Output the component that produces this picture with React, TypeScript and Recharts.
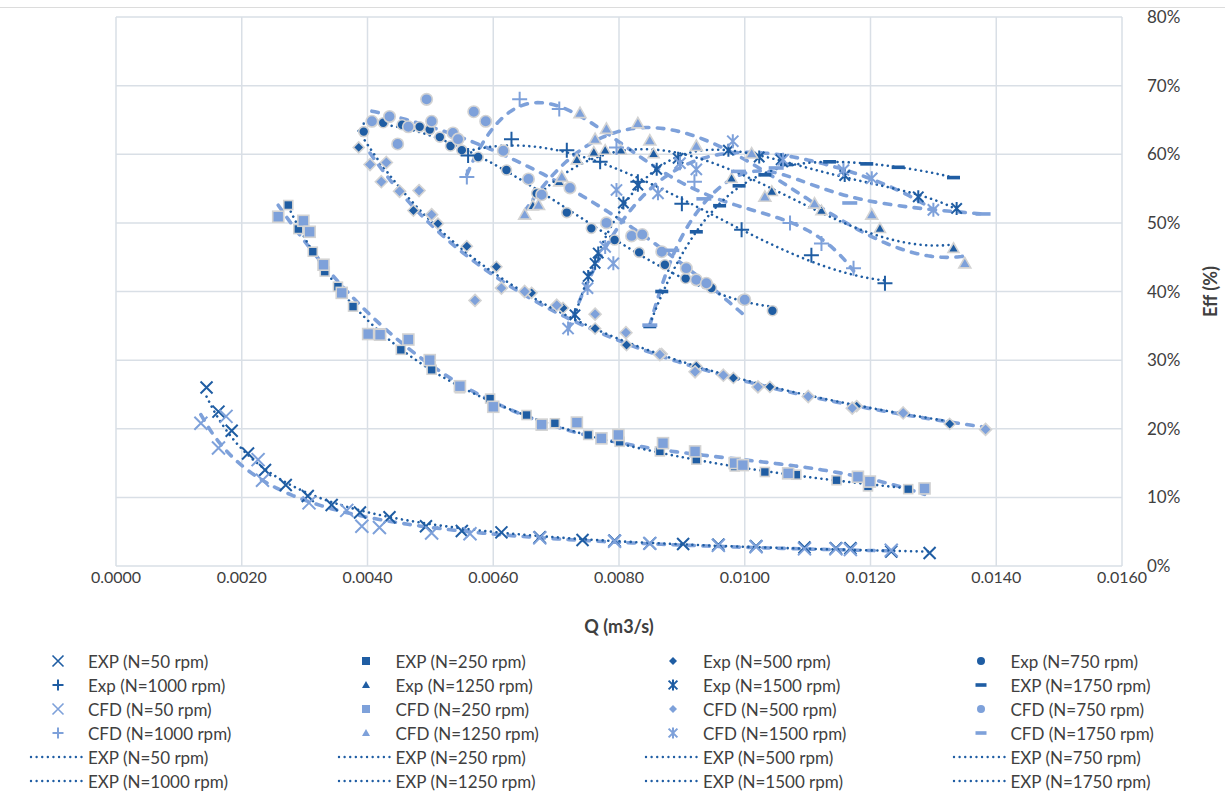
import React from 'react';
import { ComposedChart, Scatter, Line, XAxis, YAxis, CartesianGrid, Legend } from 'recharts';

// ---------- styling ----------
const FONT = 'Lato, "Open Sans", "Liberation Sans", sans-serif';
const DARK = '#1F5DA3';
const LIGHT = '#7EA1DA';
const HALO = '#D3D3D3';
const TEXT = '#404040';
const GRID = '#D9DFE6';

// ---------- axes ----------
const X_TICKS = [0, 0.002, 0.004, 0.006, 0.008, 0.01, 0.012, 0.014, 0.016];
const Y_TICKS = [0, 10, 20, 30, 40, 50, 60, 70, 80];

// ---------- measured points: [Q (m3/s), efficiency (%)] ----------
type Row = [number, number];

const EXP_50: Row[] = [
  [0.00144, 26.0], [0.00163, 22.5], [0.00184, 19.7], [0.0021, 16.4], [0.00237, 14.0],
  [0.0027, 11.8], [0.00305, 10.2], [0.00343, 8.9], [0.00388, 7.8], [0.00435, 7.1],
  [0.00493, 5.8], [0.0055, 5.1], [0.00613, 4.9], [0.00674, 4.2], [0.00742, 3.8],
  [0.00793, 3.7], [0.00849, 3.3], [0.00902, 3.2], [0.00958, 3.1], [0.01018, 2.9],
  [0.01095, 2.7], [0.01145, 2.6], [0.01168, 2.6], [0.01233, 2.1], [0.01294, 1.9],
];
const EXP_250: Row[] = [
  [0.00274, 52.6], [0.0029, 49.1], [0.00313, 45.8], [0.00332, 42.9], [0.00353, 40.7],
  [0.00377, 37.8], [0.0042, 33.9], [0.00453, 31.5], [0.00502, 28.6], [0.00547, 25.9],
  [0.00595, 24.4], [0.00653, 22.0], [0.00698, 20.8], [0.00751, 19.1], [0.00801, 18.1],
  [0.00865, 16.7], [0.00923, 15.5], [0.00984, 14.5], [0.01032, 13.7], [0.01082, 13.3],
  [0.01146, 12.5], [0.01196, 11.6], [0.0126, 11.2],
];
const EXP_500: Row[] = [
  [0.00386, 61.0], [0.00473, 51.8], [0.00512, 49.9], [0.00558, 46.6], [0.00605, 43.6],
  [0.00661, 39.8], [0.00711, 37.6], [0.00762, 34.6], [0.00812, 32.2], [0.00868, 30.9],
  [0.00923, 29.1], [0.00982, 27.4], [0.0104, 26.1], [0.01178, 23.3], [0.01326, 20.7],
];
const EXP_750: Row[] = [
  [0.00394, 63.3], [0.00425, 64.6], [0.00455, 64.3], [0.00483, 64.0], [0.00499, 63.6],
  [0.00515, 62.5], [0.00532, 61.2], [0.0055, 60.6], [0.00576, 59.6], [0.00621, 57.7],
  [0.00669, 54.3], [0.00717, 51.5], [0.00756, 49.2], [0.00793, 47.5], [0.00832, 45.7],
  [0.00873, 43.9], [0.00906, 41.9], [0.00947, 40.5], [0.00997, 38.8], [0.01044, 37.2],
];
const EXP_1000: Row[] = [
  [0.0056, 59.8], [0.00629, 62.2], [0.00717, 60.6], [0.0077, 58.9], [0.0083, 56.0],
  [0.009, 52.8], [0.00995, 49.0], [0.01106, 45.3], [0.01223, 41.2],
];
const EXP_1250: Row[] = [
  [0.00663, 52.5], [0.00705, 56.0], [0.00733, 59.2], [0.0076, 60.3], [0.00778, 60.6],
  [0.00803, 60.6], [0.00855, 60.1], [0.00979, 56.5], [0.01043, 54.6], [0.01122, 51.8],
  [0.01215, 49.2], [0.01332, 46.3],
];
const EXP_1500: Row[] = [
  [0.0073, 36.6], [0.00751, 42.2], [0.00762, 44.1], [0.00767, 45.6], [0.00807, 52.9],
  [0.0083, 55.5], [0.0086, 57.8], [0.00894, 59.4], [0.00974, 60.6], [0.01023, 59.6],
  [0.01058, 59.2], [0.01159, 56.9], [0.01276, 53.8], [0.01337, 52.1],
];
const EXP_1750: Row[] = [
  [0.00849, 34.9], [0.00868, 40.0], [0.00923, 48.7], [0.0096, 52.5], [0.00991, 55.4],
  [0.01032, 57.0], [0.01066, 58.5], [0.01135, 58.9], [0.01194, 58.6], [0.01244, 58.1],
  [0.01332, 56.6],
];

// ---------- simulated points ----------
const CFD_50: Row[] = [
  [0.00135, 20.8], [0.00163, 17.2], [0.00175, 21.8], [0.00226, 15.5], [0.00233, 12.5],
  [0.00307, 9.2], [0.00367, 8.1], [0.00391, 5.8], [0.00419, 5.6], [0.00502, 4.8],
  [0.00563, 4.7], [0.00674, 4.1], [0.00793, 3.6], [0.00849, 3.3], [0.00958, 3.0],
  [0.01018, 2.8], [0.01095, 2.5], [0.01145, 2.5], [0.01168, 2.4], [0.01233, 2.3],
];
const CFD_250: Row[] = [
  [0.00258, 50.9], [0.00298, 50.3], [0.00308, 48.7], [0.0033, 43.9], [0.00359, 39.8],
  [0.00401, 33.8], [0.0042, 33.7], [0.00465, 33.0], [0.00499, 30.0], [0.00547, 26.2],
  [0.006, 23.2], [0.00677, 20.6], [0.00733, 20.9], [0.00772, 18.6], [0.00799, 19.1],
  [0.0087, 17.9], [0.00921, 16.7], [0.00984, 15.0], [0.00997, 14.7], [0.01069, 13.5],
  [0.0118, 13.0], [0.01199, 12.3], [0.01286, 11.3],
];
const CFD_500: Row[] = [
  [0.00404, 58.5], [0.00422, 56.0], [0.0043, 58.8], [0.00451, 54.6], [0.00482, 54.7],
  [0.00502, 51.2], [0.00571, 38.7], [0.00613, 40.5], [0.0065, 40.0], [0.00701, 38.0],
  [0.00762, 36.7], [0.00811, 34.0], [0.00865, 30.8], [0.00921, 28.3], [0.00966, 27.8],
  [0.01021, 26.1], [0.01101, 24.7], [0.01171, 23.0], [0.01252, 22.3], [0.01383, 19.9],
];
const CFD_750: Row[] = [
  [0.00407, 64.8], [0.00435, 65.5], [0.00448, 61.5], [0.00465, 64.0], [0.00494, 68.0],
  [0.00502, 64.8], [0.00536, 63.1], [0.00544, 62.2], [0.00569, 66.2], [0.00588, 64.8],
  [0.00616, 60.5], [0.00656, 56.4], [0.00677, 54.1], [0.00722, 55.1], [0.0078, 50.0],
  [0.0082, 48.1], [0.00837, 48.3], [0.00868, 45.8], [0.00907, 43.4], [0.00923, 41.7],
  [0.00939, 41.2], [0.01, 38.8],
];
const CFD_1000: Row[] = [
  [0.00558, 56.7], [0.00642, 68.0], [0.00705, 66.6], [0.00796, 61.0], [0.0092, 56.0],
  [0.01072, 50.0], [0.01122, 47.0], [0.01173, 43.4],
];
const CFD_1250: Row[] = [
  [0.0065, 51.2], [0.00672, 52.6], [0.00709, 56.7], [0.00738, 66.0], [0.00762, 62.2],
  [0.0078, 63.7], [0.0083, 64.5], [0.00849, 62.0], [0.00923, 61.2], [0.01011, 60.1],
  [0.01032, 53.8], [0.01111, 52.8], [0.01202, 51.2], [0.0135, 44.1],
];
const CFD_1500: Row[] = [
  [0.00719, 34.6], [0.0075, 40.5], [0.00778, 46.5], [0.00791, 44.1], [0.00796, 54.8],
  [0.00862, 54.3], [0.00897, 58.7], [0.00923, 57.8], [0.00981, 61.9], [0.01061, 59.2],
  [0.01157, 57.7], [0.01202, 56.5], [0.013, 51.9],
];
const CFD_1750: Row[] = [
  [0.00849, 35.1], [0.00884, 46.0], [0.00935, 53.5], [0.0099, 57.5], [0.0105, 58.0],
  [0.01167, 52.9], [0.01379, 51.3],
];

// ---------- series definitions ----------
type MarkerKind = 'x' | 'square' | 'diamond' | 'circle' | 'plus' | 'triangle' | 'star' | 'dash';
// 'power' and numbers are least-squares fits; 'spline' is a smoothed B-spline through the points
type Fit = 'power' | 'spline' | number;
interface SeriesDef {
  name: string;
  rows: Row[];
  marker: MarkerKind;
  tone: 'dark' | 'light';
  fit: Fit;
}

const EXP_SERIES: SeriesDef[] = [
  { name: 'EXP (N=50 rpm)', rows: EXP_50, marker: 'x', tone: 'dark', fit: 'power' },
  { name: 'EXP (N=250 rpm)', rows: EXP_250, marker: 'square', tone: 'dark', fit: 'power' },
  { name: 'Exp (N=500 rpm)', rows: EXP_500, marker: 'diamond', tone: 'dark', fit: 'power' },
  { name: 'Exp (N=750 rpm)', rows: EXP_750, marker: 'circle', tone: 'dark', fit: 3 },
  { name: 'Exp (N=1000 rpm)', rows: EXP_1000, marker: 'plus', tone: 'dark', fit: 3 },
  { name: 'Exp (N=1250 rpm)', rows: EXP_1250, marker: 'triangle', tone: 'dark', fit: 3 },
  { name: 'Exp (N=1500 rpm)', rows: EXP_1500, marker: 'star', tone: 'dark', fit: 4 },
  { name: 'EXP (N=1750 rpm)', rows: EXP_1750, marker: 'dash', tone: 'dark', fit: 4 },
];
const CFD_SERIES: SeriesDef[] = [
  { name: 'CFD (N=50 rpm)', rows: CFD_50, marker: 'x', tone: 'light', fit: 'power' },
  { name: 'CFD (N=250 rpm)', rows: CFD_250, marker: 'square', tone: 'light', fit: 3 },
  { name: 'CFD (N=500 rpm)', rows: CFD_500, marker: 'diamond', tone: 'light', fit: 'power' },
  { name: 'CFD (N=750 rpm)', rows: CFD_750, marker: 'circle', tone: 'light', fit: 2 },
  { name: 'CFD (N=1000 rpm)', rows: CFD_1000, marker: 'plus', tone: 'light', fit: 4 },
  { name: 'CFD (N=1250 rpm)', rows: CFD_1250, marker: 'triangle', tone: 'light', fit: 3 },
  { name: 'CFD (N=1500 rpm)', rows: CFD_1500, marker: 'star', tone: 'light', fit: 4 },
  { name: 'CFD (N=1750 rpm)', rows: CFD_1750, marker: 'dash', tone: 'light', fit: 'spline' },
];
const TREND_NAMES = [
  'EXP (N=50 rpm)', 'EXP (N=250 rpm)', 'EXP (N=500 rpm)', 'EXP (N=750 rpm)',
  'EXP (N=1000 rpm)', 'EXP (N=1250 rpm)', 'EXP (N=1500 rpm)', 'EXP (N=1750 rpm)',
];

// ---------- least-squares trendlines ----------
const toPoints = (rows: Row[]) => rows.map(([q, eff]) => ({ q, eff }));

function solve(A: number[][], b: number[]): number[] {
  const n = b.length;
  const M = A.map((r, i) => [...r, b[i]]);
  for (let c = 0; c < n; c++) {
    let p = c;
    for (let r = c + 1; r < n; r++) if (Math.abs(M[r][c]) > Math.abs(M[p][c])) p = r;
    [M[c], M[p]] = [M[p], M[c]];
    for (let r = 0; r < n; r++) {
      if (r === c) continue;
      const f = M[r][c] / M[c][c];
      for (let k = c; k <= n; k++) M[r][k] -= f * M[c][k];
    }
  }
  return M.map((r, i) => r[n] / r[i]);
}

function makeFit(rows: Row[], fit: 'power' | number): (q: number) => number {
  if (fit === 'power') {
    const n = rows.length;
    let sx = 0, sy = 0, sxx = 0, sxy = 0;
    rows.forEach(([q, e]) => {
      const x = Math.log(q), y = Math.log(e);
      sx += x; sy += y; sxx += x * x; sxy += x * y;
    });
    const b = (n * sxy - sx * sy) / (n * sxx - sx * sx);
    const a = Math.exp((sy - b * sx) / n);
    return (q) => a * Math.pow(q, b);
  }
  const qs = rows.map((r) => r[0]);
  const lo = Math.min(...qs);
  const span = Math.max(...qs) - lo;
  const m = fit + 1;
  const A = Array.from({ length: m }, () => new Array(m).fill(0));
  const b = new Array(m).fill(0);
  rows.forEach(([q, e]) => {
    const t = (q - lo) / span;
    for (let i = 0; i < m; i++) {
      b[i] += Math.pow(t, i) * e;
      for (let j = 0; j < m; j++) A[i][j] += Math.pow(t, i + j);
    }
  });
  const c = solve(A, b);
  return (q) => {
    const t = (q - lo) / span;
    return c.reduce((s, ck, k) => s + ck * Math.pow(t, k), 0);
  };
}

function trendPoints(rows: Row[], fit: Fit, count = 120) {
  if (fit === 'spline') return toPoints(rows);
  const qs = rows.map((r) => r[0]);
  const lo = Math.min(...qs);
  const hi = Math.max(...qs);
  const f = makeFit(rows, fit);
  return Array.from({ length: count + 1 }, (_, i) => {
    const q = lo + ((hi - lo) * i) / count;
    return { q, eff: f(q) };
  });
}

// ---------- markers ----------
const SIZES: Record<'dark' | 'light', Record<MarkerKind, number>> = {
  dark: { x: 12, square: 9, diamond: 11, circle: 10, plus: 15, triangle: 11, star: 13, dash: 13 },
  light: { x: 13, square: 11, diamond: 12, circle: 11.5, plus: 15, triangle: 12, star: 14, dash: 15 },
};

function Marker({ kind, cx, cy, color, s, legend }: {
  kind: MarkerKind; cx: number; cy: number; color: string; s: number; legend?: boolean;
}) {
  const h = s / 2;
  const halo = legend ? 'none' : HALO;
  const hw = legend ? 0 : 1.6;
  switch (kind) {
    case 'x':
      return (
        <path d={`M${cx - h},${cy - h}L${cx + h},${cy + h}M${cx - h},${cy + h}L${cx + h},${cy - h}`}
          stroke={color} strokeWidth={legend ? 1.6 : 2} fill="none" />
      );
    case 'plus':
      return (
        <path d={`M${cx - h},${cy}L${cx + h},${cy}M${cx},${cy - h}L${cx},${cy + h}`}
          stroke={color} strokeWidth={2} fill="none" />
      );
    case 'star':
      return (
        <path
          d={`M${cx - h * 0.8},${cy - h * 0.8}L${cx + h * 0.8},${cy + h * 0.8}M${cx - h * 0.8},${cy + h * 0.8}L${cx + h * 0.8},${cy - h * 0.8}M${cx},${cy - h}L${cx},${cy + h}`}
          stroke={color} strokeWidth={2} fill="none" />
      );
    case 'dash':
      return <rect x={cx - h} y={cy - 1.8} width={s} height={3.6} fill={color} />;
    case 'square':
      return <rect x={cx - h} y={cy - h} width={s} height={s} fill={color} stroke={halo} strokeWidth={hw} />;
    case 'diamond':
      return (
        <polygon points={`${cx},${cy - h} ${cx + h},${cy} ${cx},${cy + h} ${cx - h},${cy}`}
          fill={color} stroke={halo} strokeWidth={hw} />
      );
    case 'circle':
      return <circle cx={cx} cy={cy} r={h} fill={color} stroke={halo} strokeWidth={hw} />;
    case 'triangle':
      return (
        <polygon points={`${cx},${cy - h} ${cx + h},${cy + h * 0.75} ${cx - h},${cy + h * 0.75}`}
          fill={color} stroke={halo} strokeWidth={hw} />
      );
    default:
      return null;
  }
}

const markerShape = (def: SeriesDef) => (props: any) => {
  const { cx, cy } = props;
  if (cx == null || cy == null) return <g />;
  const color = def.tone === 'dark' ? DARK : LIGHT;
  return <Marker kind={def.marker} cx={cx} cy={cy} color={color} s={SIZES[def.tone][def.marker]} />;
};

// ---------- legend ----------
const LEGEND_MARKER_SIZE: Record<MarkerKind, number> = {
  x: 11, square: 8, diamond: 8, circle: 8, plus: 11, triangle: 8, star: 11, dash: 11,
};

function LegendGrid() {
  const items: { name: string; def?: SeriesDef }[] = [
    ...EXP_SERIES.map((d) => ({ name: d.name, def: d })),
    ...CFD_SERIES.map((d) => ({ name: d.name, def: d })),
    ...TREND_NAMES.map((n) => ({ name: n })),
  ];
  return (
    <div style={{ position: 'relative', width: 1225, height: 150, fontFamily: FONT, fontSize: 17, color: TEXT }}>
      {items.map((it, i) => {
        const col = i % 4;
        const row = Math.floor(i / 4);
        const textX = 88 + col * 307.5;
        return (
          <div key={i} style={{ position: 'absolute', left: textX - 60, top: row * 24, height: 24, display: 'flex', alignItems: 'center', whiteSpace: 'nowrap' }}>
            <svg width={60} height={24} style={{ display: 'block' }}>
              {it.def ? (
                <Marker kind={it.def.marker} cx={30} cy={12} s={LEGEND_MARKER_SIZE[it.def.marker]}
                  color={it.def.tone === 'dark' ? DARK : LIGHT} legend />
              ) : (
                <line x1={3} y1={12} x2={56} y2={12} stroke={DARK} strokeWidth={2.4}
                  strokeDasharray="0.01 5.6" strokeLinecap="round" />
              )}
            </svg>
            <span>{it.name}</span>
          </div>
        );
      })}
    </div>
  );
}

// ---------- Y axis title ----------
const renderEffTitle = (props: any) => {
  const vb = props.viewBox || {};
  const cx = (vb.x ?? 1122) + 88;
  const cy = (vb.y ?? 17) + (vb.height ?? 549) / 2;
  return (
    <text x={cx} y={cy} transform={`rotate(-90 ${cx} ${cy})`} textAnchor="middle" dominantBaseline="central"
      fontFamily={FONT} fontSize={18} fontWeight={700} fill={TEXT}>
      Eff (%)
    </text>
  );
};

export default function App() {
  return (
    <div style={{ position: 'absolute', left: 0, top: 0, width: 1225, height: 800, background: '#fff' }}>
      <div style={{ position: 'absolute', left: 0, top: 7, width: 1225, height: 1, background: '#DCDCDC' }} />
      <ComposedChart width={1225} height={800} margin={{ top: 17, right: 0, bottom: 164, left: 116 }}
        style={{ fontFamily: FONT }}>
        <CartesianGrid stroke={GRID} strokeWidth={1.5} horizontalValues={Y_TICKS} verticalValues={X_TICKS} />
        <XAxis type="number" dataKey="q" domain={[0, 0.016]} ticks={X_TICKS} interval={0}
          allowDataOverflow tickFormatter={(v: number) => v.toFixed(4)} axisLine={false} tickLine={false}
          tickMargin={0} height={70} tick={{ fontSize: 16, fill: TEXT, fontFamily: FONT }}
          label={{ value: 'Q (m3/s)', position: 'insideBottom', offset: 3, fontSize: 18, fontWeight: 700, fill: TEXT, fontFamily: FONT }} />
        <YAxis type="number" dataKey="eff" orientation="right" domain={[0, 80]} ticks={Y_TICKS} interval={0}
          allowDataOverflow tickFormatter={(v: number) => `${v}%`} axisLine={false} tickLine={false}
          tickMargin={19} width={103} tick={{ fontSize: 17, fill: TEXT, fontFamily: FONT }}
          label={{ content: renderEffTitle }} />
        {EXP_SERIES.map((d) => (
          <Scatter key={d.name} name={d.name} data={toPoints(d.rows)} dataKey="eff" shape={markerShape(d)}
            fill={DARK} isAnimationActive={false} />
        ))}
        {CFD_SERIES.map((d) => (
          <Scatter key={d.name} name={d.name} data={toPoints(d.rows)} dataKey="eff" shape={markerShape(d)}
            fill={LIGHT} isAnimationActive={false} />
        ))}
        {CFD_SERIES.map((d) => (
          <Line key={`cfd-trend-${d.name}`} name={`${d.name} trend`} data={trendPoints(d.rows, d.fit)} dataKey="eff"
            type={d.fit === 'spline' ? 'basis' : 'linear'} stroke={LIGHT} strokeWidth={3.6} strokeDasharray="6.5 8.5"
            strokeLinecap="round" dot={false} activeDot={false} legendType="none" isAnimationActive={false} />
        ))}
        {EXP_SERIES.map((d, i) => (
          <Line key={`exp-trend-${d.name}`} name={TREND_NAMES[i]} data={trendPoints(d.rows, d.fit)} dataKey="eff"
            type={d.fit === 'spline' ? 'basis' : 'linear'} stroke={DARK} strokeWidth={2.6} strokeDasharray="0.01 5.6"
            strokeLinecap="round" dot={false} activeDot={false} isAnimationActive={false} />
        ))}
        <Legend layout="horizontal" verticalAlign="middle" align="center" content={() => <LegendGrid />}
          wrapperStyle={{ left: 0, top: 649, width: 1225, height: 150 }} />
      </ComposedChart>
    </div>
  );
}
